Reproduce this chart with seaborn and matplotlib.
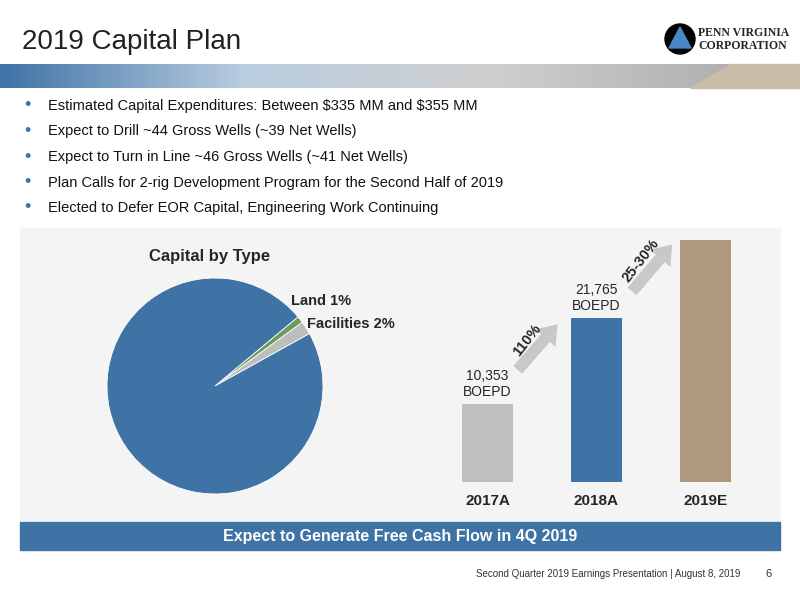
import numpy as np
import pandas as pd
import matplotlib
matplotlib.use("Agg")
import matplotlib.pyplot as plt
import seaborn as sns
from matplotlib.patches import Rectangle, Polygon, Circle

sns.set_theme(style="white")
plt.rcParams['font.family'] = ['Liberation Sans', 'DejaVu Sans']

# data
pie_labels = ["Facilities 2%", "Land 1%", "Drilling & Completion\n97%"]
pie_values = [2, 1, 97]
pie_colors = ["#bdbdbd", "#6e9b59", "#3f73a6"]

years = ["2017A", "2018A", "2019E"]
production = [10353, 21765, 32100]
bar_labels = ["10,353\nBOEPD", "21,765\nBOEPD", ""]
bar_colors = ["#bfbfbf", "#3f73a6", "#ae987e"]
growth = ["110%", "25-30%"]

bullets = [
    r"Estimated Capital Expenditures: Between \$335 MM and \$355 MM",
    "Expect to Drill ~44 Gross Wells (~39 Net Wells)",
    "Expect to Turn in Line ~46 Gross Wells (~41 Net Wells)",
    "Plan Calls for 2-rig Development Program for the Second Half of 2019",
    "Elected to Defer EOR Capital, Engineering Work Continuing",
]

fig = plt.figure(figsize=(8, 6), dpi=100)
bg = fig.add_axes([0, 0, 1, 1])
bg.axis("off")

# header
bg.text(22, 42, "2019 Capital Plan", fontsize=20, color="#222222", va="center")
grad = np.linspace(0, 1, 256).reshape(1, -1)
cm = matplotlib.colors.LinearSegmentedColormap.from_list("g2", ["#3f73a6", "#b9cde0", "#d0d0d0", "#b0b0b0"])
bg.imshow(grad, extent=(0, 730, 88, 64), cmap=cm, aspect="auto", zorder=3)
bg.add_patch(Polygon([[730, 64], [800, 64], [800, 88], [690, 88]], color="#c9bda9", zorder=3))
bg.set_xlim(0, 800)
bg.set_ylim(600, 0)

# logo
bg.add_patch(Circle((680, 39), 15, color="black", zorder=4))
bg.add_patch(Polygon([[680, 27], [669, 48], [691, 48]], color="#4a86c5", zorder=5))
bg.text(698, 33, "PENN VIRGINIA", fontsize=8.5, family="Liberation Serif", fontweight="bold", va="center")
bg.text(698, 46, "CORPORATION", fontsize=8.5, family="Liberation Serif", fontweight="bold", va="center")

# bullets
for i, b in enumerate(bullets):
    y = 106 + i * 25.5
    bg.text(24, y, "•", fontsize=13, color="#3f73a6", va="center")
    bg.text(48, y, b, fontsize=10.5, color="#111111", va="center")

# panel
bg.add_patch(Rectangle((20, 228), 760, 292, color="#f4f4f4", zorder=0))
bg.text(210, 256, "Capital by Type", fontsize=12, fontweight="bold", ha="center", va="center")

# banner
bg.add_patch(Rectangle((20, 522), 760, 28, color="#3f73a6", zorder=2))
bg.text(400, 536, "Expect to Generate Free Cash Flow in 4Q 2019", fontsize=11.5, fontweight="bold",
        color="white", ha="center", va="center", zorder=3)

# footer
bg.text(740, 574, "Second Quarter 2019 Earnings Presentation | August 8, 2019", fontsize=7,
        color="#333333", ha="right", va="center")
bg.text(772, 574, "6", fontsize=8, color="#333333", ha="right", va="center")

# pie
pax = fig.add_axes([107 / 800, 1 - 494 / 600, 216 / 800, 216 / 600])
pax.pie(pie_values, colors=pie_colors, startangle=29, counterclock=True,
        wedgeprops=dict(edgecolor="white", linewidth=0.6))
pax.set_xlim(-1, 1)
pax.set_ylim(-1, 1)
pax.set_aspect("equal")
bg.text(291, 301, pie_labels[1], fontsize=10.5, fontweight="bold", va="center")
bg.text(307, 324, pie_labels[0], fontsize=10.5, fontweight="bold", va="center")
bg.text(215, 424, pie_labels[2], fontsize=11, fontweight="bold", color="white",
        ha="center", va="center", linespacing=1.4)

# bars
bax = fig.add_axes([433 / 800, 1 - 482 / 600, 327 / 800, 242 / 600])
df = pd.DataFrame({"year": years, "prod": production})
sns.barplot(data=df, x="year", y="prod", hue="year", palette=bar_colors, legend=False,
            width=0.47, ax=bax, saturation=1, linewidth=0)
bax.set_xlim(-0.5, 2.5)
bax.set_ylim(0, production[2])
bax.axis("off")
for i, (v, lab) in enumerate(zip(production, bar_labels)):
    bax.text(i, v + 700, lab, ha="center", va="bottom", fontsize=10, linespacing=1.15)
    bax.text(i, -1600, years[i], ha="center", va="top", fontsize=11, fontweight="bold")
# growth arrows
arrows = [((0.26, 14600), (0.66, 21200)), ((1.31, 25000), (1.71, 31800))]
label_pos = [(0.36, 18800), (1.41, 29400)]
for (p0, p1), g, (lx, ly) in zip(arrows, growth, label_pos):
    bax.annotate("", xy=p1, xytext=p0,
                 arrowprops=dict(arrowstyle="simple,head_width=1.6,head_length=1.1,tail_width=0.7",
                                 color="#c8c8c8", lw=0))
    bax.text(lx, ly, g, rotation=52, fontsize=10.5, fontweight="bold", ha="center", va="center")

fig.savefig("out.png", dpi=100)
